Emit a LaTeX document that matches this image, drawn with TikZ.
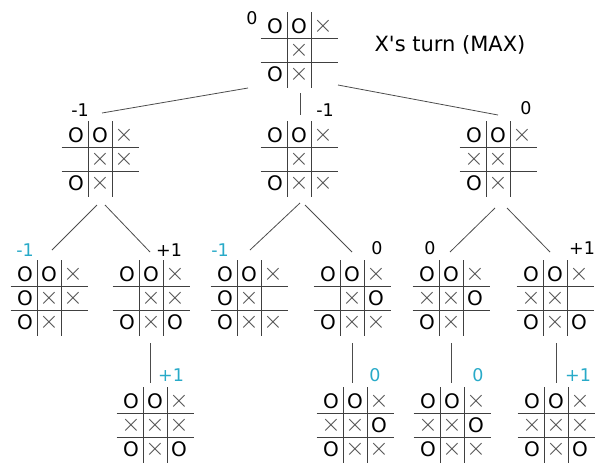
\documentclass[tikz,border=0pt]{standalone}
\usepackage{fontspec}
\setmainfont{DejaVu Sans}
\usetikzlibrary{calc}

\definecolor{leafblue}{RGB}{40,170,200}
\newcommand{\cO}{O}
\newcommand{\cX}{{\color{black!70}\fontsize{23}{23}\selectfont$\times$}}

\tikzset{
  boardline/.style={line width=1pt, black!75},
  branch/.style={line width=0.8pt, black!70},
  cellmark/.style={inner sep=0pt, font=\fontsize{20}{20}\selectfont},
  score/.style={inner sep=0pt, font=\fontsize{17.5}{17.5}\selectfont},
  leaf/.style={score, text=leafblue},
}

% #1 name, #2 centre, #3 the nine cells row by row
\newcommand{\tttboard}[3]{%
  \begin{scope}[shift={(#2)}]
    \coordinate (#1) at (0,0);
    \draw[boardline] (-38.5,-12) -- (38.5,-12);
    \draw[boardline] (-38.5,12) -- (38.5,12);
    \draw[boardline] (-12,-38) -- (-12,38);
    \draw[boardline] (12,-38) -- (12,38);
    \foreach \m [count=\i from 0] in {#3} {
      \pgfmathtruncatemacro{\cc}{mod(\i,3)}
      \pgfmathtruncatemacro{\rr}{div(\i,3)}
      \node[cellmark] (#1-\i) at ({(\cc-1)*24},{(\rr-1)*24}) {\m};
    }
  \end{scope}}

\begin{document}
\begin{tikzpicture}[x=1pt, y=-1pt]
    \useasboundingbox (0,0) rectangle (595,466);

    % root
    \tttboard{root}{299,50}{\cO,\cO,\cX,,\cX,,\cO,\cX,}
    \node[score] (v-root) at (252,18) {0};
    \node[inner sep=0pt, font=\fontsize{21}{21}\selectfont] (turn) at (450,45) {X\textquotesingle s turn (MAX)};

    % level 1
    \tttboard{b1}{100,159}{\cO,\cO,\cX,,\cX,\cX,\cO,\cX,}
    \tttboard{b2}{299,159}{\cO,\cO,\cX,,\cX,,\cO,\cX,\cX}
    \tttboard{b3}{498,159}{\cO,\cO,\cX,\cX,\cX,,\cO,\cX,}
    \node[score] (v1) at (80,110) {-1};
    \node[score] (v2) at (325,110) {-1};
    \node[score] (v3) at (526,108) {0};

    % level 2
    \tttboard{b11}{49,298}{\cO,\cO,\cX,\cO,\cX,\cX,\cO,\cX,}
    \tttboard{b12}{151,298}{\cO,\cO,\cX,,\cX,\cX,\cO,\cX,\cO}
    \tttboard{b21}{249,298}{\cO,\cO,\cX,\cO,\cX,,\cO,\cX,\cX}
    \tttboard{b22}{352,298}{\cO,\cO,\cX,,\cX,\cO,\cO,\cX,\cX}
    \tttboard{b31}{451,298}{\cO,\cO,\cX,\cX,\cX,\cO,\cO,\cX,}
    \tttboard{b32}{555,298}{\cO,\cO,\cX,\cX,\cX,,\cO,\cX,\cO}
    \node[leaf] (v11) at (25,250) {-1};
    \node[score] (v12) at (169,250) {+1};
    \node[leaf] (v21) at (220,250) {-1};
    \node[score] (v22) at (377,248) {0};
    \node[score] (v31) at (430,248) {0};
    \node[score] (v32) at (582,248) {+1};

    % level 3
    \tttboard{b121}{155,425}{\cO,\cO,\cX,\cX,\cX,\cX,\cO,\cX,\cO}
    \tttboard{b221}{355,425}{\cO,\cO,\cX,\cX,\cX,\cO,\cO,\cX,\cX}
    \tttboard{b311}{452,425}{\cO,\cO,\cX,\cX,\cX,\cO,\cO,\cX,\cX}
    \tttboard{b321}{556,425}{\cO,\cO,\cX,\cX,\cX,\cX,\cO,\cX,\cO}
    \node[leaf] (v121) at (171,375) {+1};
    \node[leaf] (v221) at (375,375) {0};
    \node[leaf] (v311) at (478,375) {0};
    \node[leaf] (v321) at (578,375) {+1};

    % branches
    \draw[branch] ($(root)+(-51,38)$) -- ($(b1)+(2,-46)$);
    \draw[branch] ($(root)+(1,43)$) -- ($(b2)+(1,-44)$);
    \draw[branch] ($(root)+(39,35)$) -- ($(b3)+(0,-44)$);
    \draw[branch] ($(b1)+(-3,46)$) -- ($(b11)+(3,-48)$);
    \draw[branch] ($(b1)+(5,46)$) -- ($(b12)+(-1,-46)$);
    \draw[branch] ($(b2)+(1,44)$) -- ($(b21)+(1,-48)$);
    \draw[branch] ($(b2)+(6,46)$) -- ($(b22)+(0,-46)$);
    \draw[branch] ($(b3)+(-3,49)$) -- ($(b31)+(-1,-46)$);
    \draw[branch] ($(b3)+(9,49)$) -- ($(b32)+(-5,-46)$);
    \draw[branch] ($(b12)+(-1,45)$) -- ($(b121)+(-5,-42)$);
    \draw[branch] ($(b22)+(0,45)$) -- ($(b221)+(-3,-42)$);
    \draw[branch] ($(b31)+(0,45)$) -- ($(b311)+(-1,-42)$);
    \draw[branch] ($(b32)+(1,45)$) -- ($(b321)+(0,-42)$);
\end{tikzpicture}
\end{document}
